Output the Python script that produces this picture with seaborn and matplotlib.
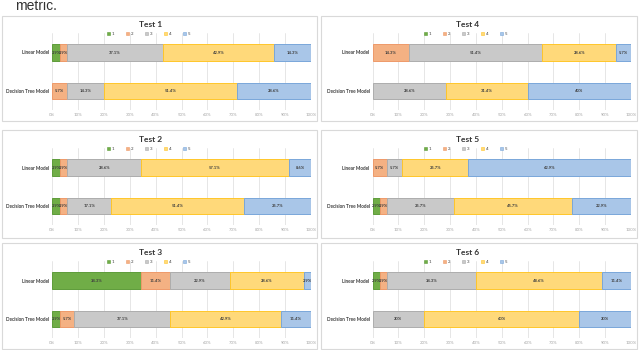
import matplotlib
matplotlib.use("Agg")
import matplotlib.pyplot as plt
from matplotlib.patches import Rectangle, Patch
import seaborn as sns
import pandas as pd

# ---- data ----
tests = ["Test 1", "Test 2", "Test 3", "Test 4", "Test 5", "Test 6"]
models = ["Linear Model", "Decision Tree Model"]
levels = ["1", "2", "3", "4", "5"]
x_ticks = [0, 10, 20, 30, 40, 50, 60, 70, 80, 90, 100]

linear_t1 = [2.9, 2.9, 37.1, 42.9, 14.3]
linear_t2 = [2.9, 2.9, 28.6, 57.1, 8.6]
linear_t3 = [34.3, 11.4, 22.9, 28.6, 2.9]
linear_t4 = [0, 14.3, 51.4, 28.6, 5.7]
linear_t5 = [0, 5.7, 5.7, 25.7, 62.9]
linear_t6 = [2.9, 2.9, 34.3, 48.6, 11.4]

tree_t1 = [0, 5.7, 14.3, 51.4, 28.6]
tree_t2 = [2.9, 2.9, 17.1, 51.4, 25.7]
tree_t3 = [2.9, 5.7, 37.1, 42.9, 11.4]
tree_t4 = [0, 0, 28.6, 31.4, 40.0]
tree_t5 = [2.9, 2.9, 25.7, 45.7, 22.9]
tree_t6 = [0, 0, 20, 60, 20]

linear_vals = [linear_t1, linear_t2, linear_t3, linear_t4, linear_t5, linear_t6]
tree_vals = [tree_t1, tree_t2, tree_t3, tree_t4, tree_t5, tree_t6]

# ---- style ----
fills = ["#70AD47", "#F4B183", "#C9C9C9", "#FFD97A", "#A9C6E8"]
edges = ["#5E9C3A", "#EE9A6A", "#ADADAD", "#FFC62A", "#7AA7DA"]

sns.set_theme(style="white")
plt.rcParams['font.family'] = ['Lato', 'DejaVu Sans']

W, H = 640, 350
fig = plt.figure(figsize=(6.4, 3.5), dpi=100)
fig.patch.set_facecolor("white")

def fx(x):
    return x / W

def fy(y):
    return 1 - y / H

# layout (pixels)
col_frame = [(2, 317), (321, 637)]
row_frame = [(16, 121), (130, 238), (243, 349)]
col_axis = [(52.2, 310.8), (372.5, 631.0)]
row_lin = [52.5, 167.7, 280.6]
col_center = [150.5, 467.5]
spacing = 38.5

positions = {"Test 1": (0, 0), "Test 4": (0, 1), "Test 2": (1, 0),
             "Test 5": (1, 1), "Test 3": (2, 0), "Test 6": (2, 1)}

fig.text(fx(15), fy(9.5), "metric.", fontsize=10, color="#333333",
         family=["Liberation Sans", "DejaVu Sans"], va="baseline", ha="left")

for ti, test in enumerate(tests):
    r, c = positions[test]
    # frame
    x0f, x1f = col_frame[c]
    y0f, y1f = row_frame[r]
    fig.add_artist(Rectangle((fx(x0f), fy(y1f)), (x1f - x0f) / W, (y1f - y0f) / H,
                             transform=fig.transFigure, fill=False,
                             edgecolor="#D9D9D9", lw=0.8))
    # axes
    ly = row_lin[r]
    top = ly - spacing / 2
    bot = ly + spacing + spacing / 2
    ax0, ax1 = col_axis[c]
    ax = fig.add_axes([fx(ax0), fy(bot), (ax1 - ax0) / W, (bot - top) / H])

    rows = []
    for mi, (m, vals) in enumerate(zip(models, [linear_vals[ti], tree_vals[ti]])):
        left = 0.0
        for li, v in enumerate(vals):
            rows.append({"model": m, "level": levels[li], "value": v, "left": left})
            left += v
    df = pd.DataFrame(rows)

    for li, lv in enumerate(levels):
        sub = df[df["level"] == lv].reset_index(drop=True)
        sns.barplot(data=sub, x="value", y="model", order=models, orient="h",
                    color=fills[li], saturation=1, width=0.43, errorbar=None,
                    edgecolor=edges[li], linewidth=0.7, ax=ax, zorder=3)
        cont = ax.containers[-1]
        for patch, (_, rw) in zip(cont.patches, sub.iterrows()):
            patch.set_x(rw["left"])
            patch.set_facecolor(fills[li])
            if rw["value"] == 0:
                patch.set_visible(False)
            else:
                yc = patch.get_y() + patch.get_height() / 2
                ax.text(rw["left"] + rw["value"] / 2, yc, f"{rw['value']:g}%",
                        ha="center", va="center", fontsize=3.0, color="#404040",
                        fontweight="bold", zorder=5)

    ax.set_xlim(0, 100)
    ax.set_ylim(1.5, -0.5)
    ax.set_xticks(x_ticks)
    ax.set_xticklabels([f"{t}%" for t in x_ticks], fontsize=3.2, color="#A6A6A6")
    ax.set_yticks([0, 1])
    ax.set_yticklabels(models, fontsize=3.4, color="#404040", fontweight="bold")
    ax.tick_params(axis="both", length=0, pad=2)
    ax.set_xlabel("")
    ax.set_ylabel("")
    ax.grid(axis="x", color="#E2E2E2", lw=0.6, zorder=0)
    ax.set_axisbelow(True)
    for s in ax.spines.values():
        s.set_visible(False)
    ax.set_facecolor("none")

    # title
    fig.text(fx(col_center[c]), fy(ly - 27.7), test, ha="center", va="center",
             fontsize=6, fontweight="bold", color="#333333")
    # legend
    handles = [Patch(facecolor=fills[i], edgecolor=edges[i], lw=0.4) for i in range(5)]
    ax.legend(handles, levels, ncol=5, loc="center",
              bbox_to_anchor=(fx(col_center[c] - 2), fy(ly - 18.5)),
              bbox_transform=fig.transFigure, fontsize=3.2, frameon=False,
              handlelength=0.7, handleheight=0.7, handletextpad=0.4,
              columnspacing=2.6, borderpad=0, labelcolor="#404040")

fig.savefig("out.png", dpi=100, facecolor="white")
